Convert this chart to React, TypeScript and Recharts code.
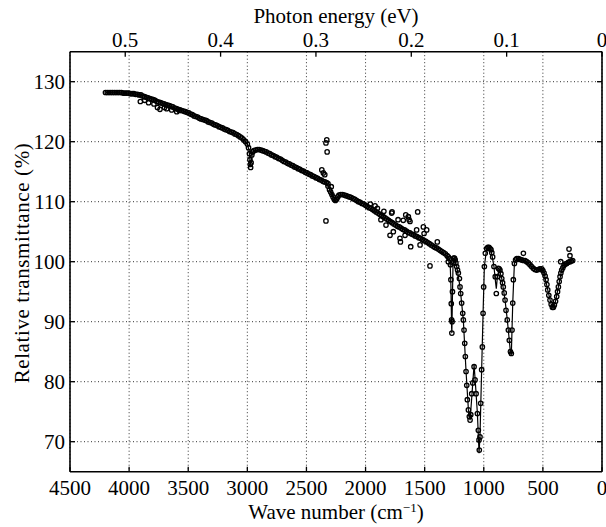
import React from "react";
import {
  ComposedChart,
  XAxis,
  YAxis,
  CartesianGrid,
  Line,
  Scatter,
} from "recharts";

// ---------- data: [wave number (cm^-1), relative transmittance (%)] ----------
const bandHigh: [number, number][] = [
  [4200, 128.2], [4185, 128.2], [4170, 128.2], [4155, 128.2], [4140, 128.2], [4125, 128.2],
  [4110, 128.2], [4095, 128.2], [4080, 128.2], [4065, 128.2], [4050, 128.1], [4035, 128.1],
  [4020, 128.1], [4005, 128.1], [3990, 128.0], [3975, 128.0], [3960, 128.0], [3945, 127.9],
  [3930, 127.9], [3915, 127.8], [3900, 127.8], [3885, 127.6], [3870, 127.5], [3855, 127.4],
  [3840, 127.3], [3825, 127.2], [3810, 127.1], [3795, 127.0], [3780, 126.9], [3765, 126.7],
  [3750, 126.6], [3735, 126.5], [3720, 126.4], [3705, 126.3], [3690, 126.2], [3675, 126.1],
  [3660, 126.0], [3645, 125.9], [3630, 125.8], [3615, 125.6], [3600, 125.5], [3585, 125.4],
  [3570, 125.3], [3555, 125.2], [3540, 125.1], [3525, 125.0], [3510, 124.9], [3495, 124.8],
  [3480, 124.6], [3465, 124.5], [3450, 124.3], [3435, 124.2], [3420, 124.1], [3405, 123.9],
  [3390, 123.8], [3375, 123.7], [3360, 123.6], [3345, 123.5], [3330, 123.3], [3315, 123.2],
  [3300, 123.1], [3285, 122.9], [3270, 122.8], [3255, 122.7], [3240, 122.5], [3225, 122.4],
  [3210, 122.3], [3195, 122.1], [3180, 122.0], [3165, 121.9], [3150, 121.7], [3135, 121.6],
  [3120, 121.5], [3105, 121.3], [3090, 121.2], [3075, 121.0], [3060, 120.8], [3045, 120.6],
  [3030, 120.3], [3015, 120.0], [3000, 119.6],
];

const bandMid: [number, number][] = [
  [2990, 119.0], [2982, 118.0], [2978, 117.0], [2975, 116.2], [2972, 115.7], [2968, 116.5],
  [2962, 117.8], [2955, 118.3], [2945, 118.5], [2930, 118.6], [2915, 118.7], [2900, 118.7],
  [2885, 118.6], [2870, 118.5], [2855, 118.4], [2840, 118.3], [2825, 118.1], [2810, 118.0],
  [2795, 117.8], [2780, 117.7], [2765, 117.5], [2750, 117.4], [2735, 117.2], [2720, 117.1],
  [2705, 116.9], [2690, 116.7], [2675, 116.6], [2660, 116.4], [2645, 116.3], [2630, 116.1],
  [2615, 116.0], [2600, 115.8], [2585, 115.7], [2570, 115.5], [2555, 115.4], [2540, 115.2],
  [2525, 115.1], [2510, 114.9], [2495, 114.8], [2480, 114.6], [2465, 114.5], [2450, 114.3],
  [2435, 114.2], [2420, 114.0], [2405, 113.9], [2390, 113.7], [2375, 113.6], [2360, 113.4],
  [2345, 113.3], [2330, 113.2], [2318, 112.6], [2305, 112.0], [2295, 111.6], [2285, 111.2],
  [2275, 110.8], [2265, 110.4], [2255, 110.2], [2245, 110.4], [2235, 110.8], [2225, 111.1],
  [2210, 111.2], [2195, 111.2], [2180, 111.1], [2165, 111.0], [2150, 110.9], [2135, 110.8],
  [2120, 110.7], [2105, 110.5], [2090, 110.4], [2075, 110.2], [2060, 110.0], [2045, 109.9],
  [2030, 109.7], [2015, 109.6], [2000, 109.4],
];

const bandNoisy: [number, number][] = [
  [1985, 109.2], [1970, 109.0], [1955, 108.9], [1940, 108.7], [1925, 108.5], [1910, 108.3],
  [1895, 108.1], [1880, 107.9], [1865, 107.7], [1850, 107.5], [1835, 107.3], [1820, 107.1],
  [1805, 106.9], [1790, 106.7], [1775, 106.5], [1760, 106.3], [1745, 106.1], [1730, 105.9],
  [1715, 105.8], [1700, 105.6], [1685, 105.4], [1670, 105.3], [1655, 105.1], [1640, 104.9],
  [1625, 104.8], [1610, 104.6], [1595, 104.5], [1580, 104.3], [1565, 104.2], [1550, 104.0],
  [1535, 103.9], [1520, 103.7], [1505, 103.5], [1490, 103.4], [1475, 103.2], [1460, 103.0],
  [1445, 102.8], [1430, 102.6], [1415, 102.4], [1400, 102.3], [1385, 102.1], [1370, 101.9],
  [1355, 101.7], [1340, 101.5], [1325, 101.3], [1310, 101.0], [1300, 100.8],
];

const absorption: [number, number][] = [
  [1290, 100.5], [1282, 99.5], [1278, 97.0], [1275, 93.0], [1272, 90.3], [1270, 88.1],
  [1268, 90.0], [1265, 95.0], [1260, 99.8], [1254, 100.6], [1248, 100.6], [1242, 100.3],
  [1236, 99.8], [1229, 99.2], [1222, 98.6], [1215, 98.1], [1206, 97.2], [1201, 95.8],
  [1195, 94.7], [1187, 93.1], [1178, 91.4], [1173, 90.3], [1167, 88.6], [1161, 86.4],
  [1156, 84.2], [1150, 81.7], [1144, 79.4], [1139, 77.0], [1130, 75.3], [1122, 74.2],
  [1116, 73.6], [1110, 74.5], [1102, 78.0], [1093, 79.8], [1082, 82.5], [1074, 80.3],
  [1065, 78.0], [1054, 74.7], [1046, 71.9], [1040, 70.3], [1038, 68.6], [1032, 70.8],
  [1026, 76.4], [1018, 82.0], [1012, 85.8], [1006, 91.4], [1001, 95.8], [995, 99.2],
  [987, 101.4], [976, 102.2], [966, 102.4], [956, 102.4], [947, 102.2], [939, 102.0],
  [932, 101.5], [925, 100.8], [914, 99.2], [903, 97.5], [894, 94.7], [886, 97.5],
  [877, 98.9], [870, 98.8], [863, 98.6], [855, 98.0], [848, 97.2], [841, 96.5],
  [835, 95.8], [827, 94.8], [820, 93.6], [812, 91.9], [801, 90.3], [792, 88.6],
  [784, 86.9], [775, 85.0], [767, 84.7], [761, 88.6], [755, 93.1], [750, 97.0],
  [741, 99.7], [731, 100.3], [721, 100.5], [707, 100.5], [693, 100.4], [679, 100.3],
  [665, 100.2], [651, 100.2], [637, 100.0], [623, 99.8], [609, 99.5], [595, 99.2],
  [581, 98.9], [567, 98.7], [553, 98.6], [539, 98.7], [525, 98.8], [510, 98.8],
  [500, 98.5], [490, 98.1], [481, 97.6], [473, 97.0], [466, 96.2], [459, 95.3],
  [450, 94.4], [440, 93.6], [430, 92.9], [420, 92.4], [411, 92.4], [403, 92.8],
  [393, 93.4], [383, 94.2], [376, 95.0], [369, 95.8], [362, 96.7], [355, 97.5],
  [348, 98.1], [341, 98.6], [331, 99.0], [321, 99.4], [310, 99.6], [299, 99.7],
  [285, 99.9], [271, 100.0], [260, 100.1], [248, 100.2],
];

const scattered: [number, number][] = [
  [3905, 126.7], [3868, 126.9], [3835, 126.5], [3790, 126.3], [3760, 125.7], [3739, 125.4],
  [3700, 125.7], [3682, 125.5], [3640, 125.3], [3597, 125.0], [3575, 125.2],
  [2370, 115.3], [2357, 114.8], [2345, 114.5], [2335, 119.8], [2328, 120.3], [2325, 118.3],
  [2318, 113.0], [2335, 106.8], [2290, 112.5],
  [1960, 109.6], [1920, 109.3], [1900, 108.9], [1870, 107.0], [1845, 108.4], [1827, 106.1],
  [1793, 104.4], [1779, 108.1], [1776, 108.3], [1765, 105.0], [1725, 107.0], [1709, 103.9],
  [1705, 103.3], [1681, 106.9], [1666, 104.4], [1660, 107.8], [1638, 107.5], [1632, 107.0],
  [1624, 106.7], [1618, 102.5], [1568, 105.3], [1559, 108.3], [1539, 102.8], [1511, 105.8],
  [1505, 104.7], [1483, 105.3], [1455, 99.3], [1393, 103.3], [1300, 100.0],
  [665, 101.4], [349, 100.0], [279, 102.1], [271, 101.0],
];

const fitCurve: [number, number][] = [
  [4200, 128.2], [4000, 128.1], [3900, 127.8], [3800, 127.1], [3700, 126.3], [3600, 125.5],
  [3500, 124.8], [3400, 123.9], [3300, 123.1], [3200, 122.2], [3100, 121.3], [3030, 120.3],
  [3000, 119.6], [2985, 118.5], [2975, 116.3], [2968, 116.6], [2955, 118.3], [2900, 118.7],
  [2800, 118.0], [2700, 116.9], [2600, 115.8], [2500, 114.8], [2400, 113.8], [2330, 113.2],
  [2300, 111.8], [2255, 110.2], [2225, 111.1], [2180, 111.1], [2100, 110.5], [2000, 109.4],
  [1900, 108.2], [1800, 106.9], [1700, 105.6], [1600, 104.6], [1500, 103.5], [1400, 102.3],
  [1300, 100.8], [1285, 100.2], [1278, 96.0], [1272, 89.0], [1270, 88.1], [1266, 93.0],
  [1260, 99.8], [1250, 100.6], [1229, 99.2], [1201, 95.8], [1173, 90.3], [1150, 81.7],
  [1130, 75.3], [1116, 73.6], [1105, 76.5], [1093, 79.8], [1082, 82.8], [1070, 79.5],
  [1054, 74.7], [1040, 68.1], [1032, 71.0], [1018, 82.0], [1006, 91.4], [995, 99.2],
  [976, 102.2], [956, 102.4], [939, 102.0], [914, 99.2], [900, 96.5], [894, 95.5],
  [886, 97.3], [870, 98.8], [848, 97.2], [820, 93.6], [801, 90.3], [775, 85.0],
  [767, 84.5], [755, 93.1], [741, 99.7], [721, 100.5], [679, 100.3], [637, 100.0],
  [595, 99.2], [553, 98.6], [510, 98.8], [490, 98.1], [459, 95.3], [430, 92.9],
  [415, 92.3], [393, 93.4], [369, 95.8], [341, 98.6], [299, 99.7], [248, 100.2],
];

// ---------- axes ----------
const waveTicks = [4500, 4000, 3500, 3000, 2500, 2000, 1500, 1000, 500, 0];
const percentTicks = [70, 80, 90, 100, 110, 120, 130];
const energyTicks = [0.5, 0.4, 0.3, 0.2, 0.1, 0];
const CM_PER_EV = 8065.54;

const toPoints = (arr: [number, number][]) => arr.map(([w, t]) => ({ w, t }));
const measured = toPoints([...bandHigh, ...bandMid, ...bandNoisy, ...absorption, ...scattered]);
const fit = toPoints(fitCurve);
const energyWave = energyTicks.map((e) => e * CM_PER_EV);

const FONT = "Liberation Serif";
const FS = 21;
const tickStyle = { fontFamily: FONT, fontSize: FS, fill: "#000" };
const axisLine = { stroke: "#000", strokeWidth: 1.6 };
const tickLine = { stroke: "#000", strokeWidth: 1.3 };

const OpenCircle = (props: any) => {
  const { cx, cy } = props;
  if (cx == null || cy == null) return null;
  return <circle cx={cx} cy={cy} r={2.2} fill="none" stroke="#000" strokeWidth={1.3} />;
};

const XTitle = () => (
  <text x={336} y={519} textAnchor="middle" fontFamily={FONT} fontSize={FS} fill="#000">
    Wave number (cm
    <tspan dy={-7} fontSize={13}>−1</tspan>
    <tspan dy={7}>)</tspan>
  </text>
);

const TopTitle = () => (
  <text x={336} y={23} textAnchor="middle" fontFamily={FONT} fontSize={FS} fill="#000">
    Photon energy (eV)
  </text>
);

const YTitle = () => (
  <text
    x={29}
    y={263}
    transform="rotate(-90, 29, 263)"
    textAnchor="middle"
    fontFamily={FONT}
    fontSize={FS}
    letterSpacing={0.6}
    fill="#000"
  >
    Relative transmittance (%)
  </text>
);

export default function App() {
  return (
    <div style={{ position: "absolute", left: 0, top: 0, background: "#fff", fontFamily: FONT }}>
      <ComposedChart
        width={606}
        height={527}
        margin={{ top: 0, right: 0, bottom: 0, left: 0 }}
      >
        <CartesianGrid
          stroke="#333"
          strokeDasharray="1 2.5"
          strokeWidth={1}
          horizontalValues={percentTicks}
          verticalValues={waveTicks}
        />
        <XAxis
          xAxisId={0}
          dataKey="w"
          type="number"
          domain={[0, 4500]}
          reversed
          allowDataOverflow
          ticks={waveTicks}
          interval={0}
          height={55.3}
          tickSize={-5}
          tickMargin={13.3}
          tick={tickStyle}
          axisLine={axisLine}
          tickLine={tickLine}
          label={<XTitle />}
        />
        <XAxis
          xAxisId="top"
          orientation="top"
          dataKey="w"
          type="number"
          domain={[0, 4500]}
          reversed
          allowDataOverflow
          ticks={energyWave}
          interval={0}
          height={51.7}
          tickSize={-5}
          tickMargin={10}
          tick={tickStyle}
          tickFormatter={(v: number) => {
            const e = v / CM_PER_EV;
            return e < 0.01 ? "0" : e.toFixed(1);
          }}
          axisLine={axisLine}
          tickLine={tickLine}
          label={<TopTitle />}
        />
        <YAxis
          yAxisId={0}
          dataKey="t"
          type="number"
          domain={[65, 135]}
          allowDataOverflow
          ticks={percentTicks}
          interval={0}
          width={70}
          tickSize={-5}
          tickMargin={10}
          tick={tickStyle}
          axisLine={axisLine}
          tickLine={tickLine}
          label={<YTitle />}
        />
        <YAxis
          yAxisId="right"
          orientation="right"
          type="number"
          domain={[65, 135]}
          allowDataOverflow
          ticks={percentTicks}
          interval={0}
          width={4}
          tickSize={-5}
          tickMargin={10}
          tick={tickStyle}
          tickFormatter={() => ""}
          axisLine={axisLine}
          tickLine={tickLine}
        />
        <Line
          data={fit}
          dataKey="t"
          type="linear"
          stroke="#000"
          strokeWidth={1.2}
          dot={false}
          activeDot={false}
          isAnimationActive={false}
        />
        <Scatter
          data={measured}
          dataKey="t"
          shape={<OpenCircle />}
          isAnimationActive={false}
        />
      </ComposedChart>
    </div>
  );
}
